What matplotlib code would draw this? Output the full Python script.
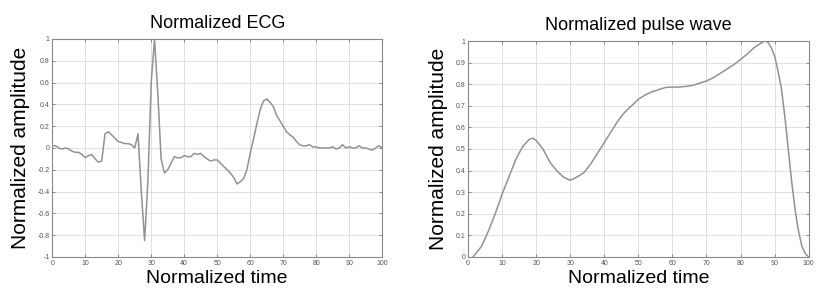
import numpy as np
import matplotlib.pyplot as plt
from matplotlib import font_manager

# ECG samples, one per unit of normalized time
ecg_t = list(range(0, 101))
ecg_y = [0.02, 0.02, 0.0, -0.01, 0.0, -0.01, -0.03, -0.04, -0.04, -0.06,
         -0.09, -0.07, -0.06, -0.10, -0.13, -0.12, 0.13, 0.15, 0.12, 0.09,
         0.06, 0.05, 0.04, 0.04, 0.03, 0.0, 0.13, -0.40, -0.85, -0.30,
         0.60, 1.0, 0.50, -0.10, -0.23, -0.20, -0.14, -0.08, -0.09, -0.09,
         -0.07, -0.08, -0.08, -0.05, -0.06, -0.05, -0.08, -0.10, -0.12, -0.11,
         -0.11, -0.14, -0.17, -0.20, -0.23, -0.27, -0.33, -0.31, -0.28, -0.20,
         -0.05, 0.08, 0.22, 0.35, 0.43, 0.45, 0.42, 0.38, 0.30, 0.25,
         0.20, 0.15, 0.12, 0.10, 0.06, 0.03, 0.02, 0.02, 0.03, 0.01,
         0.01, 0.0, 0.0, 0.0, 0.0, 0.01, -0.01, 0.0, 0.03, 0.0,
         0.01, 0.0, 0.0, 0.02, 0.0, 0.0, -0.01, -0.02, 0.0, 0.02, 0.0]

# pulse wave samples
pulse_t = [1.5, 2, 4, 6, 8, 10, 12, 14, 16, 18, 19, 20, 22, 24, 26, 28, 30,
           32, 34, 36, 38, 40, 42, 44, 46, 48, 50, 52, 54, 56, 58, 60, 62,
           64, 66, 68, 70, 72, 74, 76, 78, 80, 82, 84, 86, 87, 88, 89, 90,
           91, 92, 93, 94, 95, 96, 97, 98, 99, 100]
pulse_y = [0.0, 0.01, 0.05, 0.12, 0.20, 0.29, 0.37, 0.45, 0.51, 0.545, 0.55,
           0.54, 0.50, 0.44, 0.40, 0.37, 0.355, 0.37, 0.39, 0.43, 0.48, 0.53,
           0.58, 0.63, 0.67, 0.70, 0.73, 0.75, 0.765, 0.775, 0.785, 0.787,
           0.787, 0.79, 0.795, 0.805, 0.815, 0.83, 0.85, 0.87, 0.89, 0.915,
           0.94, 0.97, 0.99, 1.0, 0.995, 0.97, 0.93, 0.86, 0.78, 0.65, 0.50,
           0.35, 0.22, 0.12, 0.05, 0.015, 0.0]

ecg_yticks = [-1, -0.8, -0.6, -0.4, -0.2, 0, 0.2, 0.4, 0.6, 0.8, 1]
pulse_yticks = [0, 0.1, 0.2, 0.3, 0.4, 0.5, 0.6, 0.7, 0.8, 0.9, 1]
xticks = list(range(0, 101, 10))

names = [f.name for f in font_manager.fontManager.ttflist]
narrow = 'Liberation Sans Narrow' if 'Liberation Sans Narrow' in names else 'Liberation Sans'
plt.rcParams['font.family'] = [narrow, 'DejaVu Sans']

fig = plt.figure(figsize=(8.29, 2.93), dpi=100)
ax1 = fig.add_axes([0.063, 0.123, 0.398, 0.744])
ax2 = fig.add_axes([0.5645, 0.123, 0.411, 0.737])

def style(ax, yticks, ylim):
    ax.set_xlim(0, 100)
    ax.set_ylim(*ylim)
    ax.set_xticks(xticks)
    ax.set_yticks(yticks)
    ax.set_yticklabels(['%g' % v for v in yticks])
    ax.grid(True, color='#e0e0e0', linewidth=0.7)
    ax.tick_params(direction='in', length=2, width=0.6, labelsize=5,
                   labelcolor='#555555', color='#777777',
                   top=True, right=True, pad=2)
    for s in ax.spines.values():
        s.set_color('#888888')
        s.set_linewidth(0.8)
    ax.set_xlabel('Normalized time', fontsize=14, labelpad=2)
    ax.set_ylabel('Normalized amplitude', fontsize=15, labelpad=5)

ax1.plot(ecg_t, ecg_y, color='#929292', linewidth=1.1)
style(ax1, ecg_yticks, (-1, 1))
ax1.set_title('Normalized ECG', fontsize=13, pad=8)

ax2.plot(pulse_t, pulse_y, color='#929292', linewidth=1.1)
style(ax2, pulse_yticks, (0, 1))
ax2.set_title('Normalized pulse wave', fontsize=13, pad=8)

fig.savefig('out.png', dpi=100)
